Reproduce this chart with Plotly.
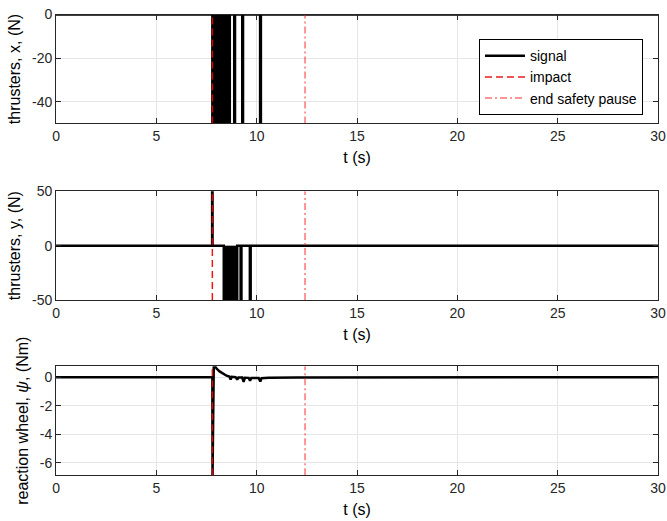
import plotly.graph_objects as go

# ---- data -------------------------------------------------------------
# thruster x command (step signal, N)
t_thr_x = [0, 7.79, 8.66, 8.88, 8.92, 9.28, 9.32, 10.17, 10.21, 30]
f_thr_x = [0, -50, 0, -50, 0, -50, 0, -50, 0, 0]

# thruster y command (step signal, N)
t_thr_y = [0, 7.78, 7.80, 8.36, 9.03, 9.20, 9.24, 9.66, 9.70, 30]
f_thr_y = [0, 50, 0, -50, 0, -50, 0, -50, 0, 0]

# reaction wheel torque (Nm)
t_rw = [0, 7.79, 7.80, 7.86, 7.92, 8.00, 8.15, 8.34, 8.50, 8.64, 8.70, 8.76,
        8.95, 9.03, 9.09, 9.28, 9.35, 9.41, 9.60, 9.67, 9.73, 10.10, 10.18,
        10.24, 10.60, 12.00, 30]
tq_rw = [0, 0, -6.9, 0.70, 0.76, 0.60, 0.40, 0.22, 0.10, 0.04, -0.16, 0.02,
         0.00, -0.18, -0.02, -0.03, -0.33, -0.04, -0.05, -0.25, -0.06, -0.06,
         -0.31, -0.07, -0.04, -0.02, 0.0]

t_impact = 7.79
t_pause_end = 12.41

x_ticks = [0, 5, 10, 15, 20, 25, 30]
y_ranges = [[-50, 0], [-50, 50], [-6.85, 0.76]]
y_ticks = [[-40, -20, 0], [-50, 0, 50], [-6, -4, -2, 0]]
y_titles = ["thrusters, x, (N)", "thrusters, y, (N)",
            "reaction wheel, <i>ψ</i>, (Nm)"]
x_title = "t (s)"

# ---- styles -----------------------------------------------------------
FONT = "Liberation Sans, Arial, sans-serif"
AX_COLOR = "#262626"
GRID = "#e6e6e6"
SIG_W = 2.5
IMPACT_STYLE = dict(color="rgba(235,0,0,0.9)", width=1.5, dash="7px,4px")
PAUSE_STYLE = dict(color="rgba(255,40,40,0.65)", width=1.5, dash="7px,3px,2px,3px")

# panel vertical extents in paper coordinates (top->bottom)
domains = [[0.763, 0.972], [0.424, 0.633], [0.088, 0.297]]
x_domain = [0.084, 0.9865]

fig = go.Figure()

series = [(t_thr_x, f_thr_x, True), (t_thr_y, f_thr_y, True), (t_rw, tq_rw, False)]
for i, (tt, vv, stepped) in enumerate(series):
    xa = "x" if i == 0 else f"x{i + 1}"
    ya = "y" if i == 0 else f"y{i + 1}"
    if stepped:
        # fast on/off switching renders as solid blocks
        fig.add_trace(go.Scatter(
            x=tt, y=vv, mode="lines", line=dict(color="black", width=SIG_W, shape="hv"),
            fill="tozeroy", fillcolor="black", showlegend=False,
            xaxis=xa, yaxis=ya, hoverinfo="skip"))
    else:
        fig.add_trace(go.Scatter(
            x=tt, y=vv, mode="lines", line=dict(color="black", width=SIG_W),
            name="signal", showlegend=True, legendrank=1,
            xaxis=xa, yaxis=ya))
    lo, hi = y_ranges[i]
    fig.add_trace(go.Scatter(
        x=[t_impact, t_impact], y=[lo, hi], mode="lines", line=IMPACT_STYLE,
        name="impact", showlegend=(i == 0), legendrank=2, xaxis=xa, yaxis=ya))
    fig.add_trace(go.Scatter(
        x=[t_pause_end, t_pause_end], y=[lo, hi], mode="lines", line=PAUSE_STYLE,
        name="end safety pause", showlegend=(i == 0), legendrank=3,
        xaxis=xa, yaxis=ya))

axis_common = dict(
    showline=True, linecolor=AX_COLOR, linewidth=1, mirror="ticks",
    ticks="inside", ticklen=5, tickcolor=AX_COLOR, automargin=False,
    showgrid=True, gridcolor=GRID, gridwidth=1, zeroline=False,
    tickfont=dict(family=FONT, size=14, color=AX_COLOR),
)

layout = dict(
    width=667, height=521,
    margin=dict(l=0, r=0, t=0, b=0),
    paper_bgcolor="white", plot_bgcolor="white",
    font=dict(family=FONT, size=14, color=AX_COLOR),
    legend=dict(
        x=0.964, y=0.925, xanchor="right", yanchor="top",
        bgcolor="white", bordercolor="black", borderwidth=1,
        font=dict(family=FONT, size=14, color="black"),
        traceorder="normal", itemwidth=40, tracegroupgap=0,
    ),
)

for i in range(3):
    xk = "xaxis" if i == 0 else f"xaxis{i + 1}"
    yk = "yaxis" if i == 0 else f"yaxis{i + 1}"
    ya = "y" if i == 0 else f"y{i + 1}"
    xa = "x" if i == 0 else f"x{i + 1}"
    layout[xk] = dict(
        axis_common, domain=x_domain, anchor=ya, range=[0, 30],
        tickvals=x_ticks, ticktext=[str(v) for v in x_ticks],
        title=dict(text=x_title, font=dict(family=FONT, size=16, color="black"),
                   standoff=8),
    )
    layout[yk] = dict(
        axis_common, domain=domains[i], anchor=xa, range=y_ranges[i],
        tickvals=y_ticks[i], ticktext=[str(v) for v in y_ticks[i]],
        title=dict(text=y_titles[i], font=dict(family=FONT, size=16, color="black"),
                   standoff=7),
    )

fig.update_layout(**layout)
fig.write_html("out.html")
